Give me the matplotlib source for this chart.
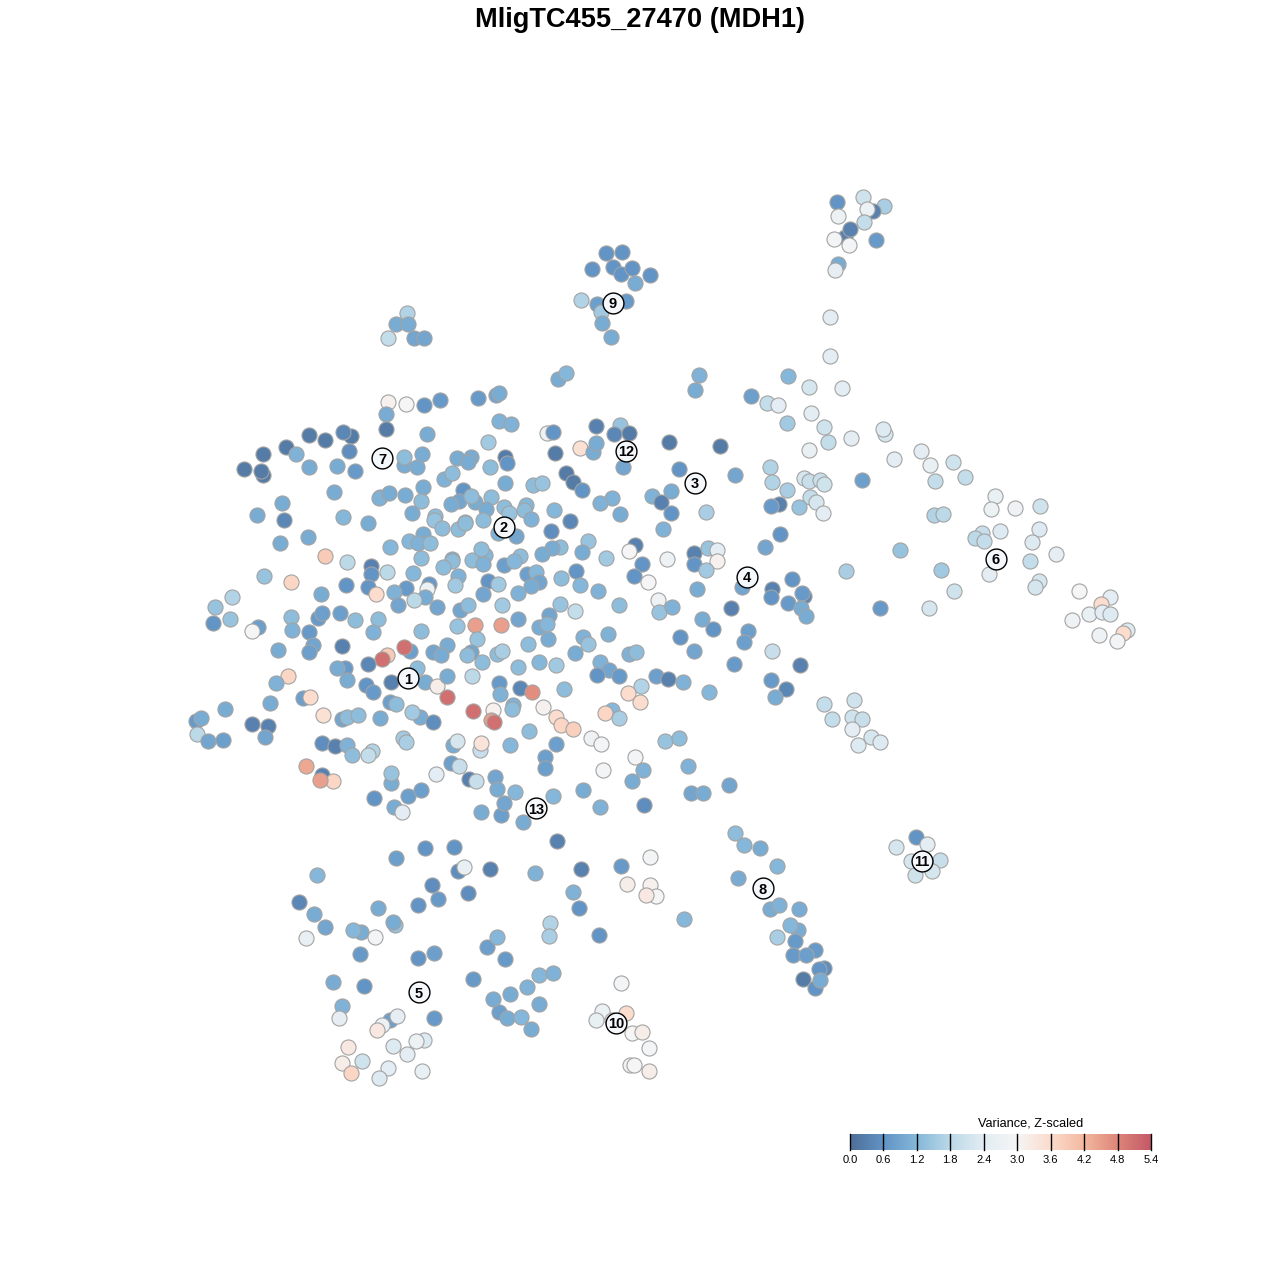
import numpy as np
import matplotlib
matplotlib.use('Agg')
import matplotlib.pyplot as plt
from matplotlib.colors import LinearSegmentedColormap

plt.rcParams['font.family'] = ['Liberation Sans', 'DejaVu Sans']

title = 'MligTC455_27470 (MDH1)'
legend_title = 'Variance, Z-scaled'
legend_ticks = [0.0, 0.6, 1.2, 1.8, 2.4, 3.0, 3.6, 4.2, 4.8, 5.4]

# cells as (tsne x, tsne y, variance), grouped by region of the map
top_right = [(863,197,2.1),(884,206,1.6),(873,211,.3),(867,209,2.7),(837,202,.6),(838,216,2.7),(864,222,1.9),
             (845,237,.3),(850,229,.3),(876,240,.7),(834,239,2.9),(849,245,2.9),(838,264,1.0),(835,270,2.5),
             (830,317,2.4),(830,356,2.4)]
cluster_9 = [(606,253,.6),(622,252,.6),(592,269,.6),(613,267,.6),(621,274,.6),(632,268,.6),(650,275,.6),(635,283,1.0),
             (581,300,1.7),(597,304,.8),(601,312,1.5),(626,301,.7),(602,323,1.0),(611,337,1.0)]
small_top = [(407,313,1.7),(396,324,1.0),(408,324,1.0),(388,338,1.9),(414,338,.9),(424,338,.9)]
right_arm = [(558,379,1.0),(566,373,1.2),(699,375,1.1),(695,390,1.0),(751,396,.8),(788,376,1.2),(767,403,1.9),
             (778,405,2.4),(809,387,2.2),(842,388,2.4),(811,413,2.4),(787,423,1.5),(824,427,2.1),(828,442,1.9),
             (851,438,2.4),(809,450,2.6),(885,434,2.2),(883,429,2.3),(894,459,2.4),(921,451,2.4),(930,465,2.6),
             (953,462,2.1),(965,477,1.9),(935,481,1.9),(770,467,1.7),(772,482,1.7),(804,478,2.2),(809,481,2.0),
             (820,480,2.0),(824,484,2.1),(787,490,1.6),(810,497,1.9),(816,502,2.2),(823,513,2.4),(799,507,1.4),
             (779,504,.3),(771,506,.7),(862,480,.8),(995,496,2.6),(991,509,2.7),(1015,508,2.8),(1040,506,2.1),
             (1039,529,2.3),(1032,542,2.3),(1056,554,2.5),(1000,531,2.3),(982,533,2.0),(975,538,1.8),(984,541,1.9),
             (934,515,1.7),(943,514,1.8),(900,550,1.4),(941,570,1.5),(954,591,2.1),(929,608,2.2),(846,571,1.6),
             (989,574,2.4),(1030,561,1.9),(1039,581,2.2),(1035,587,2.2),(880,608,.7),(1079,591,3.0),(1110,597,2.4),
             (1101,604,3.6),(1089,614,2.6),(1102,612,2.4),(1110,614,2.3),(1072,620,2.8),(1099,635,2.8),(1127,630,2.3),
             (1123,633,3.6),(1117,641,2.9)]
upper_left = [(388,402,3.1),(406,404,3.0),(424,405,.6),(440,400,.7),(478,398,.7),(496,395,.9),(499,393,1.0),
              (386,414,1.0),(386,429,.2),(427,434,1.0),(499,421,1.1),(511,424,1.1),(488,442,1.5),(505,457,.2),
              (507,463,.6),(351,436,.2),(309,435,.2),(325,440,.2),(343,432,.4),(349,451,.5),(286,447,.2),(263,454,.2),
              (296,454,1.1),(244,469,.2),(263,475,.2),(261,471,.2),(309,467,1.0),(337,466,1.0),(355,471,.7),
              (404,465,1.0),(404,457,1.3),(417,467,1.0),(422,454,1.0),(457,458,1.0),(471,457,1.0),(468,462,1.0),
              (490,467,1.3),(505,483,1.0),(444,479,1.1),(452,473,1.3),(334,492,1.0),(380,497,1.0),(379,498,1.1),
              (389,493,1.0),(405,495,1.0),(423,487,1.0),(421,501,1.3),(463,490,.6),(459,501,.9),(451,504,1.0),
              (475,502,1.0),(471,496,1.3),(491,497,1.3),(486,509,1.0),(504,507,1.3),(509,513,1.4),(282,503,1.0),
              (257,515,1.0),(284,520,.4),(343,517,1.2),(368,523,1.0),(412,513,1.0),(435,516,1.3),(434,520,1.4),
              (442,528,1.3),(458,529,1.3),(465,522,1.2),(465,523,1.3),(483,520,1.3),(498,533,1.1),(308,537,1.0),
              (280,543,1.0),(390,547,1.2),(423,534,1.0),(409,541,1.2),(418,543,1.1),(430,543,1.3),(421,558,1.3),
              (452,559,1.0),(452,561,1.3),(443,567,1.3),(472,560,1.3),(485,555,1.2),(481,549,1.3),(483,564,1.1)]
mid_left = [(504,565,.8),(325,556,3.9),(347,562,1.8),(371,566,.3),(371,574,.6),(387,572,1.8),(413,573,1.2),(264,576,1.4),
            (291,582,3.7),(346,585,.6),(368,587,.6),(376,594,3.6),(406,588,.7),(429,584,.7),(427,589,2.7),(458,576,1.1),
            (455,585,1.5),(488,581,.6),(498,584,1.5),(321,594,1.0),(394,592,1.1),(398,605,.9),(425,597,1.0),(414,600,1.8),
            (437,607,.9),(460,610,.9),(468,605,1.3),(483,594,.9),(502,605,1.5),(232,597,1.7),(215,607,1.4),(213,623,.6),
            (230,619,1.4),(258,627,.8),(252,631,3.0),(291,617,1.3),(318,618,.7),(322,613,.8),(340,613,.8),(355,620,1.3),
            (378,619,1.3),(292,630,1.1),(309,632,.7),(373,632,1.1),(421,631,1.3),(457,626,1.4),(475,625,4.5),(501,625,4.5),
            (477,639,1.4),(278,650,1.0),(313,645,.9),(309,652,.8),(342,646,.3),(387,655,3.9),(382,659,5.1),(410,651,.8),
            (404,647,5.1),(433,652,.9),(447,645,1.0),(441,655,1.0),(471,652,.9),(467,655,1.3),(482,662,1.3),(497,654,1.3),
            (502,651,1.6),(417,668,1.3),(345,668,.7),(337,668,1.0),(347,680,1.0),(368,664,.4)]
lower_left = [(288,676,3.7),(276,683,1.1),(391,682,.3),(425,682,1.0),(437,686,3.2),(447,676,1.0),(472,676,1.8),
              (447,697,5.1),(499,683,.7),(500,694,1.1),(366,685,.6),(373,692,.7),(303,698,.8),(310,697,3.6),(270,703,1.0),
              (390,702,.8),(396,704,1.3),(225,709,1.0),(196,721,.7),(201,718,1.0),(197,734,1.8),(208,741,.9),(223,740,.8),
              (252,724,.3),(268,726,.3),(265,737,.9),(323,715,3.5),(342,719,.9),(347,717,1.3),(358,715,1.3),(380,718,1.0),
              (420,717,1.0),(412,712,1.5),(433,722,.5),(473,711,5.1),(493,710,3.1),(491,720,4.5),(494,722,5.1),(322,743,.5),
              (335,746,.3),(347,745,1.1),(352,755,1.3),(372,751,1.7),(368,755,1.9),(403,738,1.5),(406,742,1.6),(453,745,1.0),
              (457,741,2.2),(480,750,2.0),(481,743,3.4),(510,745,1.2),(306,766,4.4),(322,775,.3),(333,781,3.7),(320,780,4.5),
              (391,783,1.0),(391,773,1.4),(436,774,2.4),(451,763,.8),(459,766,2.0),(469,779,.3),(476,781,2.0),(495,777,.9),
              (497,789,1.0),(374,798,.6),(408,796,.8),(421,790,.8),(394,807,1.0),(402,812,2.4),(481,812,1.0),(501,815,.8),
              (504,803,.9)]
upper_mid = [(547,433,2.7),(553,432,.6),(596,426,.3),(620,425,1.4),(614,434,.4),(629,433,.2),(580,448,3.5),(593,452,1.0),
             (596,443,1.0),(555,453,.2),(623,467,.9),(669,442,.2),(720,446,.2),(679,469,.6),(735,475,.9),(566,473,.2),
             (573,482,.2),(582,490,.6),(533,485,1.3),(542,483,1.4),(612,498,1.1),(600,503,1.1),(620,514,1.0),(652,496,1.1),
             (671,491,1.0),(661,502,.3),(671,513,.6),(706,512,1.6),(554,510,1.2),(526,505,1.2),(524,510,1.3),(531,519,1.1),
             (570,521,.4),(551,531,.5),(516,536,.9),(663,529,1.1),(635,545,.3),(629,551,3.0),(588,541,1.4),(582,552,1.0),
             (606,558,1.5),(560,547,1.3),(552,548,1.0),(542,554,1.0),(520,556,1.3),(514,561,1.2)]
mid_right = [(667,559,2.8),(694,553,.3),(694,564,.6),(708,548,1.4),(717,550,2.4),(717,561,3.1),(706,570,1.5),(642,564,.6),
             (634,576,.6),(648,582,3.0),(576,571,.6),(527,574,.8),(536,572,1.2),(539,582,.9),(531,586,1.0),(561,578,1.3),
             (580,585,1.2),(518,593,1.1),(598,591,1.1),(697,589,1.0),(658,600,2.8),(659,612,1.4),(672,607,1.1),(619,605,1.3),
             (560,604,1.4),(575,611,1.9),(518,619,.9),(549,615,.9),(539,627,1.0),(547,624,1.2),(548,639,1.0),(528,644,1.3),
             (583,637,1.1),(588,644,1.4),(608,634,1.1),(575,653,1.0),(539,662,1.2),(518,667,1.3),(556,665,1.5),(600,662,1.1),
             (609,670,.9),(597,675,.6),(619,676,.7),(629,654,1.1),(636,652,1.3),(656,676,.8),(668,679,.3),(683,682,1.1),
             (709,692,1.2),(680,637,.6),(694,651,.9),(702,619,1.0),(713,629,.6),(731,608,.3),(742,587,.9),(772,589,.3),
             (771,597,.6),(792,579,.6),(788,603,.7),(804,596,.4),(802,593,.7),(801,608,1.0),(806,616,1.0),(748,631,.8),
             (744,642,.8),(734,664,.7),(772,651,2.0),(800,665,.3),(771,680,.7),(786,689,.4),(775,697,1.0),(765,547,.9),
             (780,534,.6),(520,688,.4),(532,692,4.7),(564,689,1.3),(641,686,1.7),(628,693,3.6),(640,702,3.6)]
right_pale = [(824,704,1.9),(854,700,2.1),(832,719,1.9),(852,717,2.1),(862,719,2.0),(852,729,2.4),(871,737,2.2),(880,742,2.3),
              (858,745,2.3)]
lower_mid = [(543,707,3.1),(513,705,1.1),(512,709,1.3),(556,717,3.6),(561,725,3.7),(573,729,3.8),(612,710,1.2),(605,713,3.7),
             (619,718,1.6),(529,731,1.3),(591,738,2.8),(601,744,2.9),(635,757,2.9),(665,741,1.4),(679,738,1.3),(556,744,.8),
             (545,757,.8),(545,768,.8),(603,770,2.9),(643,770,1.1),(688,766,1.1),(632,781,1.0),(729,785,.9),(691,793,.9),
             (703,793,1.0),(583,790,1.0),(553,796,1.2),(515,792,1.2),(600,807,1.1),(644,805,.5),(523,822,1.0),(557,841,.3)]
cluster_8 = [(735,833,1.3),(744,845,1.2),(760,848,1.0),(777,866,1.2),(738,878,1.0),(770,909,1.0),(779,905,1.1),(799,909,1.0),
             (798,930,1.0),(790,925,1.2),(777,937,1.6),(795,941,.7),(793,955,.7),(815,950,.7),(806,955,.8),(824,968,.5),
             (819,969,.6),(803,979,.2),(815,988,.6),(820,980,1.0),(684,919,1.2)]
cluster_11 = [(916,837,.6),(927,844,2.4),(896,847,2.2),(911,861,2.2),(921,862,2.2),(940,860,2.0),(932,871,2.2),(915,875,2.1)]
bottom_left = [(317,875,1.2),(396,858,.8),(425,848,.6),(454,847,.6),(458,871,.5),(464,867,2.6),(490,869,.3),(535,873,1.1),
               (581,869,.3),(621,866,.7),(650,857,2.9),(627,884,3.2),(650,885,3.1),(656,896,3.0),(646,895,3.3),(573,892,1.1),
               (579,908,.6),(550,923,1.7),(549,936,1.6),(599,935,.6),(432,885,.5),(418,905,.6),(438,899,.7),(468,893,.5),
               (299,902,.4),(314,914,1.0),(378,908,1.0),(395,925,1.4),(393,922,1.0),(325,927,.9),(361,932,1.0),(353,930,1.2),
               (375,937,2.9),(306,938,2.6),(360,954,.7),(418,958,.6),(434,953,.8),(487,947,.8),(497,937,1.2),(505,959,.7),
               (473,979,.7),(539,975,1.2),(553,973,1.1),(527,987,1.1),(333,982,1.0),(364,986,.6)]
bottom = [(493,999,1.0),(510,994,1.0),(539,1004,1.0),(499,1012,.8),(507,1018,1.0),(521,1017,1.2),(531,1029,1.0),(434,1018,.7),
          (342,1006,1.1),(339,1018,2.5),(390,1020,.8),(397,1016,2.5),(382,1025,2.7),(377,1030,3.3),(393,1046,2.3),(424,1040,2.3),
          (416,1041,2.7),(407,1054,2.4),(348,1047,3.3),(342,1063,3.2),(362,1061,2.1),(351,1073,3.7),(388,1068,2.4),(379,1078,2.3),
          (422,1071,2.6),(621,983,2.9),(602,1011,2.7),(626,1013,3.6),(596,1020,2.6),(612,1020,3.1),(632,1033,3.0),(642,1032,3.2),
          (649,1048,2.9),(630,1065,2.8),(634,1065,3.0),(649,1071,3.2)]

# cluster numbers and where they sit
label_names = ['1', '2', '3', '4', '5', '6', '7', '8', '9', '10', '11', '12', '13']
label_x = [408, 504, 695, 747, 419, 996, 382, 763, 613, 616, 922, 626, 536]
label_y = [678, 527, 483, 577, 992, 559, 458, 888, 303, 1023, 861, 451, 808]

variance_cmap = LinearSegmentedColormap.from_list('variance', [
    (0.0, '#4f6f99'), (1/9, '#6294c6'), (2/9, '#85b8d9'), (3/9, '#bcd9e8'), (4/9, '#e3edf3'),
    (5/9, '#f5f5f5'), (6/9, '#fcdccd'), (7/9, '#f4b9a0'), (8/9, '#de8679'), (1.0, '#c45a68')])

cells = np.array(top_right + cluster_9 + small_top + right_arm + upper_left + mid_left + lower_left + upper_mid
                 + mid_right + right_pale + lower_mid + cluster_8 + cluster_11 + bottom_left + bottom)

fig = plt.figure(figsize=(12.8, 12.8), dpi=100)
ax = fig.add_axes([0, 0, 1, 1])
ax.set_xlim(0, 1280)
ax.set_ylim(1280, 0)
ax.axis('off')

ax.scatter(cells[:, 0] + 0.5, cells[:, 1] + 0.5, c=cells[:, 2], cmap=variance_cmap, vmin=0, vmax=5.4,
           s=118, edgecolors='#a3a3a3', linewidths=0.8, zorder=2)

# numbered cluster labels
ax.scatter(label_x, label_y, s=225, facecolors='#f4f8fb', edgecolors='black', linewidths=1.0, zorder=3)
for name, x, y in zip(label_names, label_x, label_y):
    ax.text(x, y, name, ha='center', va='center_baseline', fontsize=10.5, fontweight='bold', color='black', zorder=4)

fig.text(0.5, 1 - 20 / 1280, title, ha='center', va='center', fontsize=19.6, fontweight='bold')

# legend bar, ticks drawn through its height
cax = fig.add_axes([850 / 1280, 1 - 1150 / 1280, 301 / 1280, 16 / 1280])
gradient = np.linspace(0, 5.4, 400).reshape(1, -1)
cax.imshow(gradient, cmap=variance_cmap, vmin=0, vmax=5.4, aspect='auto', extent=[0, 5.4, 0, 1])
cax.set_xlim(0, 5.4)
cax.set_yticks([])
cax.set_xticks(legend_ticks)
cax.set_xticklabels([f'{t:.1f}' for t in legend_ticks], fontsize=8)
cax.tick_params(axis='x', length=0, pad=3.5)
for t in legend_ticks:
    cax.axvline(t, color='black', lw=1.0, clip_on=False)
for side in cax.spines.values():
    side.set_visible(False)
fig.text(1031 / 1280, 1 - 1123 / 1280, legend_title, ha='center', va='center', fontsize=9.2)

fig.savefig('out.png', dpi=100)
